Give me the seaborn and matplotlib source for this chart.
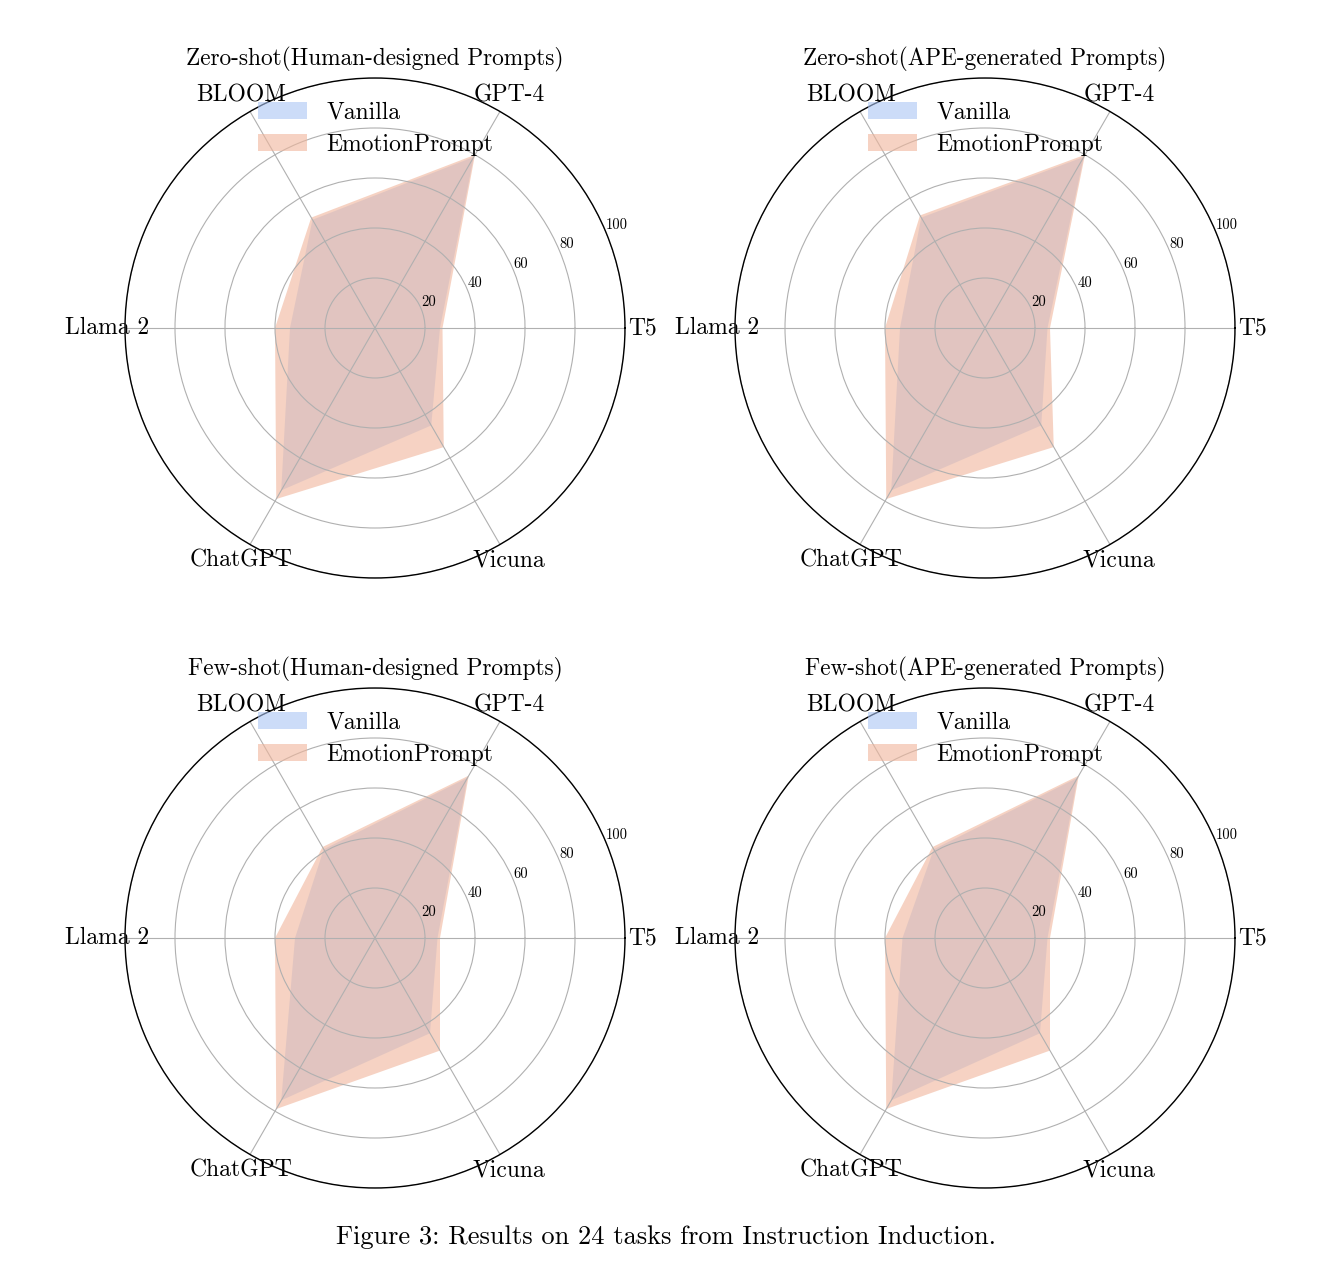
import numpy as np
import seaborn as sns
import matplotlib
matplotlib.use("Agg")
import matplotlib.pyplot as plt

# models, counter-clockwise starting from 0 degrees
models = ["T5", "GPT-4", "BLOOM", "Llama 2", "ChatGPT", "Vicuna"]

titles = ["Zero-shot(Human-designed Prompts)", "Zero-shot(APE-generated Prompts)",
          "Few-shot(Human-designed Prompts)", "Few-shot(APE-generated Prompts)"]

# scores
zs_human_vanilla = [26, 79, 50, 34, 75, 45]
zs_human_emotion = [27, 80, 51, 40, 79, 55]
zs_ape_vanilla = [25, 79, 51, 34, 75, 45]
zs_ape_emotion = [26, 80, 52, 40, 79, 55]
fs_human_vanilla = [25, 74, 41, 32, 75, 44]
fs_human_emotion = [26, 75, 42, 40, 79, 52]
fs_ape_vanilla = [25, 74, 41, 33, 75, 44]
fs_ape_emotion = [26, 75, 42, 40, 79, 52]

r_ticks = [20, 40, 60, 80, 100]
caption = "Figure 3: Results on 24 tasks from Instruction Induction."

sns.set_theme(style="white", rc={"text.color": "black", "axes.labelcolor": "black",
                                 "xtick.color": "black", "ytick.color": "black",
                                 "axes.axisbelow": False})
plt.rcParams['font.family'] = ['cmr10', 'DejaVu Serif']
plt.rcParams['mathtext.fontset'] = 'cm'
plt.rcParams['axes.formatter.use_mathtext'] = True

vanilla_color = "#abc5f4"
emotion_color = "#f0b59b"

panels = [(zs_human_vanilla, zs_human_emotion), (zs_ape_vanilla, zs_ape_emotion),
          (fs_human_vanilla, fs_human_emotion), (fs_ape_vanilla, fs_ape_emotion)]

fig = plt.figure(figsize=(13.32, 12.74), dpi=100)
W, H = 1332, 1274
# pixel boxes (left, top) for each polar axes, size 500x500
boxes = [(125, 78), (735, 78), (125, 688), (735, 688)]

angles = np.linspace(0, 2 * np.pi, len(models), endpoint=False)
closed = np.concatenate([angles, angles[:1]])

for (left, top), title, (van, emo) in zip(boxes, titles, panels):
    ax = fig.add_axes([left / W, (H - top - 500) / H, 500 / W, 500 / H], projection="polar")
    v = np.array(van + van[:1])
    e = np.array(emo + emo[:1])
    ax.fill(closed, v, color=vanilla_color, alpha=0.6, linewidth=0, label="Vanilla")
    ax.fill(closed, e, color=emotion_color, alpha=0.6, linewidth=0, label="EmotionPrompt")
    ax.set_ylim(0, 100)
    ax.set_yticks(r_ticks)
    ax.set_yticklabels([str(t) for t in r_ticks], fontsize=10.5)
    ax.set_rlabel_position(22.5)
    ax.set_xticks(angles)
    ax.set_xticklabels(models, fontsize=17)
    ax.tick_params(axis="x", pad=0)
    ax.grid(True, color="#b0b0b0", linewidth=0.8)
    ax.spines["polar"].set_color("black")
    ax.spines["polar"].set_linewidth(1.0)
    ax.spines["polar"].set_zorder(5)
    ax.set_title(title, fontsize=16.8, pad=9)
    ax.legend(loc="upper left", bbox_to_anchor=(0.242, 0.976), frameon=False,
              borderpad=0, fontsize=17, handlelength=2.1, handleheight=0.7,
              labelspacing=0.4, handletextpad=0.8)

fig.text(0.5, 1 - 1237 / H, caption, ha="center", va="center", fontsize=19)

fig.savefig("out.png", dpi=100, facecolor="white")
